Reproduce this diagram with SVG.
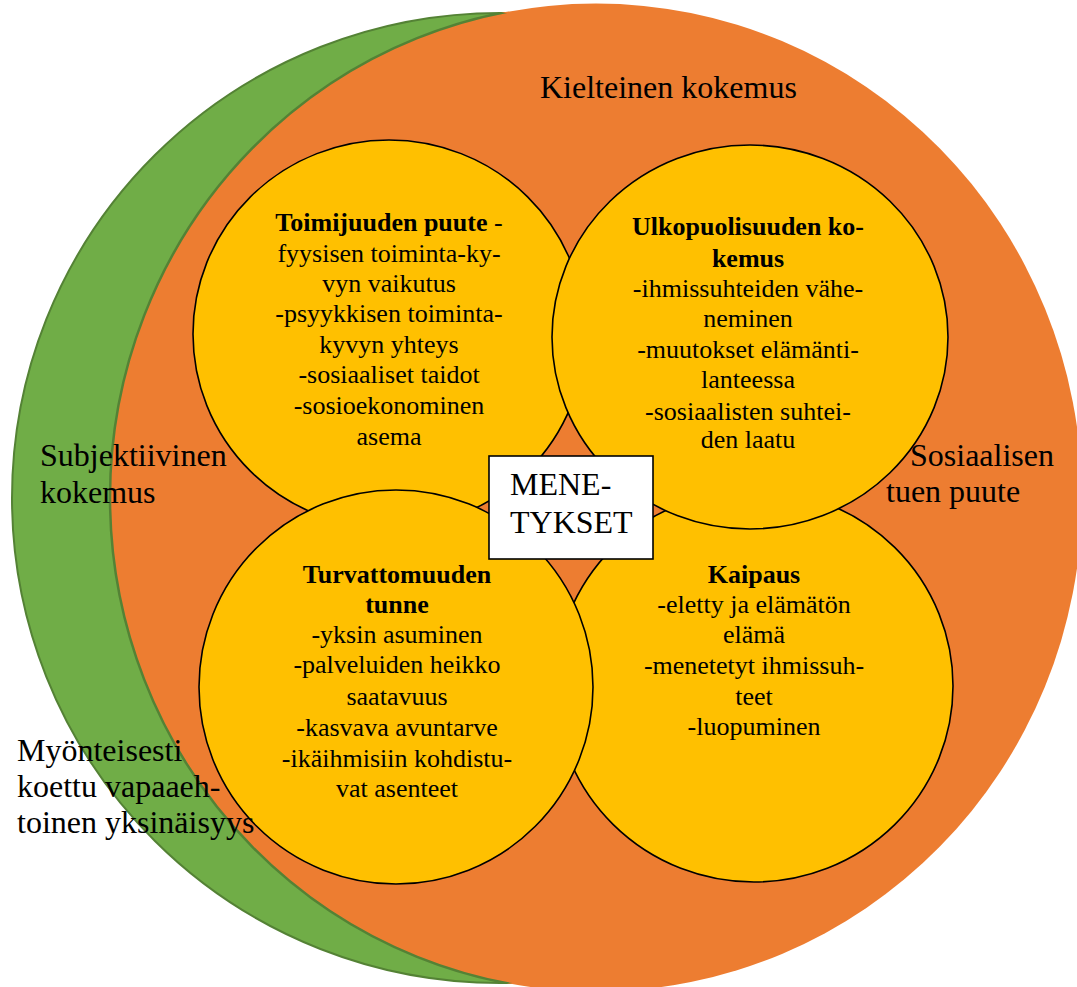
<svg xmlns="http://www.w3.org/2000/svg" width="1077" height="987" viewBox="0 0 1077 987">
  <style>
    .lbl { font-family: "Liberation Serif", "Times New Roman", serif; fill: #000; }
    .big { font-size: 32px; }
    .small { font-size: 26px; text-anchor: middle; }
    .b { font-weight: bold; }
    .disc { fill: #FFC000; stroke: #000; stroke-width: 1.6; }
  </style>
  <defs>
    <clipPath id="greenClip">
      <ellipse cx="500" cy="498" rx="488" ry="485"/>
    </clipPath>
  </defs>

  <!-- outer rings -->
  <g id="subjective">
    <ellipse cx="500" cy="498" rx="488" ry="485" fill="#70AD47" stroke="#548235" stroke-width="2"/>
  </g>
  <g id="negative">
    <ellipse cx="596" cy="497.5" rx="486" ry="494" fill="#ED7D31"/>
    <ellipse cx="596" cy="497.5" rx="486" ry="494" fill="none" stroke="#548235" stroke-width="2.5" clip-path="url(#greenClip)"/>
  </g>

  <!-- four themes -->
  <g id="toimijuus">
    <ellipse class="disc" cx="389" cy="334" rx="196" ry="194"/>
    <text class="lbl small" x="389" y="231"><tspan class="b">Toimijuuden puute</tspan> -</text>
    <text class="lbl small" x="389" y="262">fyysisen toiminta-ky-</text>
    <text class="lbl small" x="389" y="292">vyn vaikutus</text>
    <text class="lbl small" x="389" y="322">-psyykkisen toiminta-</text>
    <text class="lbl small" x="389" y="353">kyvyn yhteys</text>
    <text class="lbl small" x="389" y="383">-sosiaaliset taidot</text>
    <text class="lbl small" x="389" y="414">-sosioekonominen</text>
    <text class="lbl small" x="389" y="445">asema</text>
  </g>

  <g id="kaipaus">
    <ellipse class="disc" cx="754" cy="686" rx="199" ry="196"/>
    <text class="lbl small b" x="754" y="583">Kaipaus</text>
    <text class="lbl small" x="754" y="613">-eletty ja elämätön</text>
    <text class="lbl small" x="754" y="643">elämä</text>
    <text class="lbl small" x="754" y="674">-menetetyt ihmissuh-</text>
    <text class="lbl small" x="754" y="705">teet</text>
    <text class="lbl small" x="754" y="735">-luopuminen</text>
  </g>

  <g id="ulkopuolisuus">
    <ellipse class="disc" cx="750" cy="337" rx="198" ry="192"/>
    <text class="lbl small b" x="748" y="235">Ulkopuolisuuden ko-</text>
    <text class="lbl small b" x="748" y="267">kemus</text>
    <text class="lbl small" x="748" y="297">-ihmissuhteiden vähe-</text>
    <text class="lbl small" x="748" y="327">neminen</text>
    <text class="lbl small" x="748" y="358">-muutokset elämänti-</text>
    <text class="lbl small" x="748" y="388">lanteessa</text>
    <text class="lbl small" x="748" y="420">-sosiaalisten suhtei-</text>
    <text class="lbl small" x="748" y="448">den laatu</text>
  </g>

  <g id="turvattomuus">
    <ellipse class="disc" cx="396" cy="687" rx="197" ry="197"/>
    <text class="lbl small b" x="397" y="583">Turvattomuuden</text>
    <text class="lbl small b" x="397" y="613">tunne</text>
    <text class="lbl small" x="397" y="643">-yksin asuminen</text>
    <text class="lbl small" x="397" y="673">-palveluiden heikko</text>
    <text class="lbl small" x="397" y="705">saatavuus</text>
    <text class="lbl small" x="397" y="736">-kasvava avuntarve</text>
    <text class="lbl small" x="397" y="767">-ikäihmisiin kohdistu-</text>
    <text class="lbl small" x="397" y="797">vat asenteet</text>
  </g>

  <!-- centre box -->
  <g id="menetykset">
    <rect x="489" y="456" width="164" height="103" fill="#FFFFFF" stroke="#000" stroke-width="1.6"/>
    <text class="lbl big" x="510" y="495">MENE-</text>
    <text class="lbl big" x="510" y="533">TYKSET</text>
  </g>

  <!-- ring labels -->
  <g id="ring-labels">
    <text class="lbl big" x="540" y="98">Kielteinen kokemus</text>
    <text class="lbl big" x="40" y="466">Subjektiivinen</text>
    <text class="lbl big" x="40" y="503">kokemus</text>
    <text class="lbl big" x="910" y="466">Sosiaalisen</text>
    <text class="lbl big" x="886" y="502">tuen puute</text>
    <text class="lbl big" x="17" y="761">Myönteisesti</text>
    <text class="lbl big" x="17" y="797">koettu vapaaeh-</text>
    <text class="lbl big" x="17" y="833">toinen yksinäisyys</text>
  </g>
</svg>
